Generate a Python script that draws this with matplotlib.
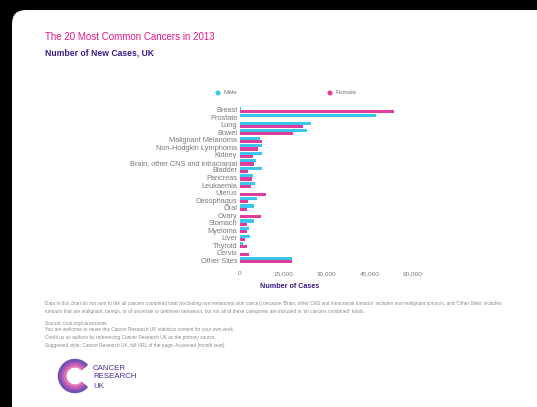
import numpy as np
import matplotlib.pyplot as plt
from matplotlib.patches import FancyBboxPatch, Arc, Circle

# new cases by site, UK 2013
sites = ["Breast", "Prostate", "Lung", "Bowel", "Malignant Melanoma",
         "Non-Hodgkin Lymphoma", "Kidney", "Brain, other CNS and intracranial",
         "Bladder", "Pancreas", "Leukaemia", "Uterus", "Oesophagus", "Oral",
         "Ovary", "Stomach", "Myeloma", "Liver", "Thyroid", "Cervix", "Other Sites"]
male = [350, 47300, 24700, 23100, 7000, 7600, 7500, 5600, 7600, 4500, 5300,
        0, 5900, 4900, 0, 4700, 3100, 3300, 900, 0, 18200]
female = [53400, 0, 21700, 18300, 7500, 6400, 4600, 5000, 2800, 4300, 3800,
          8900, 2800, 2300, 7300, 2500, 2300, 1900, 2500, 3100, 17900]
xticks = [0, 15000, 30000, 45000, 60000]

MALE_C = "#3cc6ef"
FEMALE_C = "#e23d9e"
PURPLE = "#3b1c8c"
GREY = "#7a7a7a"

W, H = 537, 407
fig = plt.figure(figsize=(W / 100, H / 100), dpi=100)
fig.patch.set_facecolor("black")
plt.rcParams["font.family"] = ["Liberation Sans", "DejaVu Sans"]

# full-figure axes in pixel units for the card, headings and footer
bg = fig.add_axes([0, 0, 1, 1])
bg.set_xlim(0, W)
bg.set_ylim(H, 0)
bg.axis("off")
bg.add_patch(FancyBboxPatch((12, 10), 540, 420, boxstyle="round,pad=0,rounding_size=14",
                            facecolor="white", edgecolor="none"))

bg.text(45, 37, "The 20 Most Common Cancers in 2013", color="#e3168c",
        fontsize=7.0, va="center")
bg.text(45, 53, "Number of New Cases, UK", color=PURPLE, fontsize=6.2,
        va="center", fontweight="bold")

# legend
bg.add_patch(Circle((218, 93), 1.8, color=MALE_C))
bg.text(224, 93, "Male", color=GREY, fontsize=4.6, va="center")
bg.add_patch(Circle((330, 93), 1.8, color=FEMALE_C))
bg.text(336, 93, "Female", color=GREY, fontsize=4.6, va="center")

# bar chart
ax = fig.add_axes([240 / W, 1 - 264 / H, 173 / W, 158 / H])
y = np.arange(len(sites))
bh = 0.42
ax.barh(y - bh / 2, male, height=bh, color=MALE_C)
ax.barh(y + bh / 2, female, height=bh, color=FEMALE_C)
ax.set_ylim(len(sites) - 0.5, -0.5)
ax.set_xlim(0, 60000)
ax.set_yticks(y)
ax.set_yticklabels(sites, fontsize=5.3, color=GREY)
ax.set_xticks(xticks)
ax.set_xticklabels([f"{v:,}" for v in xticks], fontsize=4.6, color=GREY)
ax.tick_params(length=0, pad=2)
ax.tick_params(axis="x", pad=5)
for s in ax.spines.values():
    s.set_visible(False)
ax.patch.set_alpha(0)

bg.text(290, 287, "Number of Cases", color=PURPLE, fontsize=5.2, fontweight="bold",
        ha="center", va="center")

# footer notes
notes = [
    (303, "Data in this chart do not sum to the all cancers combined total (excluding non-melanoma skin cancer) because 'Brain, other CNS and intracranial tumours' includes non-malignant tumours, and 'Other Sites' includes"),
    (311, "tumours that are malignant, benign, or of uncertain or unknown behaviour, but not all of these categories are included in 'all cancers combined' totals."),
    (323, "Source: cruk.org/cancerstats"),
    (330, "You are welcome to reuse this Cancer Research UK statistics content for your own work."),
    (338, "Credit us as authors by referencing Cancer Research UK as the primary source."),
    (346, "Suggested style: Cancer Research UK, full URL of the page, Accessed [month year]."),
]
for yy, t in notes:
    bg.text(45, yy, t, color="#8a8a8a", fontsize=3.45, va="center")

# logo
cols = ["#5b3aa6", "#7a44b0", "#9a4cb4", "#bf55ad", "#dd66b0"]
for i, c in enumerate(cols):
    bg.add_patch(Arc((75, 376), 32 - i * 3.2, 32 - i * 3.2, theta1=40, theta2=320,
                     color=c, lw=1.8, alpha=0.85))
for yy, t in [(368, "CANCER"), (377, "RESEARCH"), (386, "UK")]:
    bg.text(93, yy, t, color="#4b2c9a", fontsize=5.7, va="center")

fig.savefig("out.png", dpi=100, facecolor=fig.get_facecolor())
